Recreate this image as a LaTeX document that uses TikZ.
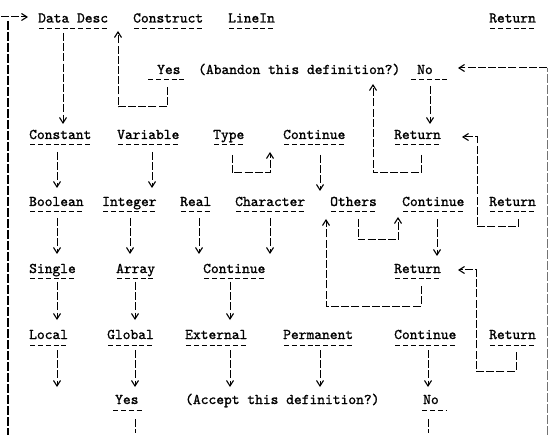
\documentclass[tikz,border=0pt]{standalone}
\usepackage{fontspec}
\newfontfamily\tyfont[Extension=.otf, FakeBold=1.2]{lmmono10-regular}
\usetikzlibrary{arrows.meta}

\tikzset{
  lbl/.style={anchor=base west, inner sep=0pt, font={\tyfont\fontsize{14.8pt}{17pt}\selectfont}},
  uline/.style={line width=1pt, dash pattern=on 5pt off 2.78pt, dash phase=-1.3pt},
  conn/.style={line width=1pt, dash pattern=on 8pt off 2.2pt},
  tip/.style={-{Straight Barb[length=5.5pt,width=7pt,line width=1.1pt]}},
  rail/.style={line width=1.1pt, dash pattern=on 9pt off 2pt},
  farrail/.style={line width=0.6pt, black!55, dash pattern=on 9pt off 2pt}
}

% label with a typed underline of the same width
\newcommand\ulabel[3]{%
  \node[lbl] (#1) at (#2) {#3};
  \draw[uline] ([yshift=-6pt]#1.base west) -- ([yshift=-6pt]#1.base east);}

\begin{document}
\begin{tikzpicture}[x=1pt,y=-1pt]
\useasboundingbox (0,0) rectangle (548,435);

% ---- labels, row by row ----
\ulabel{dd}{38,22.5}{Data Desc}
\ulabel{cons}{133,22.5}{Construct}
\ulabel{linein}{228,22.5}{LineIn}
\ulabel{retA}{489,22.5}{Return}

\node[lbl] (yesB) at (157,74) {Yes};
\draw[uline] (147,80) -- (187,80);
\node[lbl] (aband) at (198,74) {(Abandon this definition?)};
\node[lbl] (noB) at (417,74) {No};
\draw[uline] (410,80) -- (447,80);

\ulabel{constant}{29,139}{Constant}
\ulabel{variable}{117,139}{Variable}
\ulabel{type}{213,139}{Type}
\ulabel{contC}{283,139}{Continue}
\ulabel{retC}{394,139}{Return}

\ulabel{boolean}{29,206}{Boolean}
\ulabel{integer}{102,206}{Integer}
\ulabel{real}{180,206}{Real}
\ulabel{character}{235,206}{Character}
\ulabel{others}{330,206}{Others}
\ulabel{contD}{402,206}{Continue}
\ulabel{retD}{489,206}{Return}

\ulabel{single}{29,273}{Single}
\ulabel{array}{116,273}{Array}
\ulabel{contE}{203,273}{Continue}
\ulabel{retE}{394,273}{Return}

\ulabel{local}{29,339}{Local}
\ulabel{global}{107,339}{Global}
\ulabel{external}{185,339}{External}
\ulabel{permanent}{283,339}{Permanent}
\ulabel{contF}{394,339}{Continue}
\ulabel{retF}{489,339}{Return}

\node[lbl] (yesG) at (115,404) {Yes};
\draw[uline] (112,410) -- (143,410);
\node[lbl] (accept) at (185,404) {(Accept this definition?)};
\node[lbl] (noG) at (423,404) {No};
\draw[uline] (421,410) -- (447,410);

% ---- connector end points ----
\coordinate (e1) at (1,17);     \coordinate (e2) at (28,17);
\coordinate (l1) at (8,21);     \coordinate (l2) at (8,435);
\coordinate (a1) at (63,33);    \coordinate (a2) at (63,124);
\coordinate (b1) at (167,87);   \coordinate (b2) at (118,31);
\coordinate (c1) at (430,86);   \coordinate (c2) at (430,124);
\coordinate (rr1) at (547,435); \coordinate (rrc) at (547,68); \coordinate (rr2) at (458,68);
\coordinate (k1) at (57,152);   \coordinate (k2) at (57,188);
\coordinate (v1) at (152,152);  \coordinate (v2) at (152,188);
\coordinate (t1) at (232,155);  \coordinate (t2) at (270,152);
\coordinate (n1) at (320,155);  \coordinate (n2) at (320,191);
\coordinate (rc1) at (421,155); \coordinate (rc2) at (373,84);
\coordinate (rd1) at (518,219); \coordinate (rdc) at (477,137); \coordinate (rd2) at (462,137);
\coordinate (o1) at (358,219);  \coordinate (o2) at (398,217);
\coordinate (cd1) at (437,219); \coordinate (cd2) at (437,256);
\coordinate (re1) at (421,286); \coordinate (re2) at (326,219);
\coordinate (rf1) at (516,352); \coordinate (rfc) at (476,270); \coordinate (rf2) at (458,270);

% ---- rails ----
\draw[conn,tip] (e1) -- (e2);
\draw[rail] (l1) -- (l2);
\draw[farrail] (rr1) -- (rrc);
\draw[conn,tip] (rrc) -- (rr2);

% ---- top part ----
\draw[conn,tip] (a1) -- (a2);
\draw[conn,tip] (b1) -- ++(0,20) -| (b2);
\draw[conn,tip] (c1) -- (c2);

% ---- row C to row D ----
\draw[conn,tip] (k1) -- (k2);
\draw[conn,tip] (v1) -- (v2);
\draw[conn,tip] (t1) -- ++(0,18) -| (t2);
\draw[conn,tip] (n1) -- (n2);
\draw[conn,tip] (rc1) -- ++(0,18) -| (rc2);
\draw[conn,tip] (rd1) -- ++(0,8) -| (rdc) -- (rd2);

% ---- row D to row E ----
\foreach \x in {57,130,199,270}
  \draw[conn,tip] (\x,218) -- (\x,254);
\draw[conn,tip] (o1) -- ++(0,21) -| (o2);
\draw[conn,tip] (cd1) -- (cd2);
\draw[conn,tip] (re1) -- ++(0,20) -| (re2);
\draw[conn,tip] (rf1) -- ++(0,19) -| (rfc) -- (rf2);

% ---- row E to row F ----
\foreach \x in {57,135,230}
  \draw[conn,tip] (\x,282) -- (\x,320);

% ---- row F to row G ----
\foreach \x in {57,135,230,320,428}
  \draw[conn,tip] (\x,350) -- (\x,387);
\draw[conn] (135,419) -- (135,433);
\draw[conn] (428,419) -- (428,433);
\end{tikzpicture}
\end{document}
